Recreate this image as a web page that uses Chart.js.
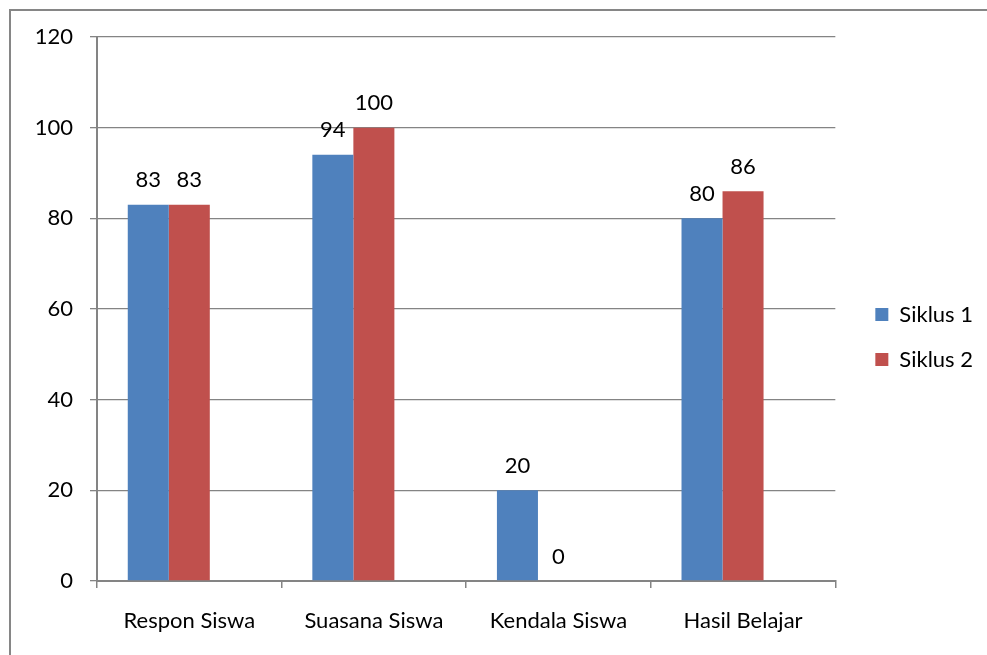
<!DOCTYPE html>
<html>
<head>
<meta charset="utf-8">
<script src="https://cdn.jsdelivr.net/npm/chart.js"></script>
<style>
    body { margin: 0; overflow: hidden; background: #fff; }
    .frame { position: absolute; left: 9px; top: 9px; width: 1200px; height: 900px; border-left: 2px solid #868686; border-top: 2px solid #868686; }
    canvas { position: absolute; left: 0; top: 0; }
</style>
</head>
<body>
<div class="frame"></div>
<canvas id="chart" width="987" height="655"></canvas>
<script>
const categories = ['Respon Siswa', 'Suasana Siswa', 'Kendala Siswa', 'Hasil Belajar'];
const siklus1 = [83, 94, 20, 80];
const siklus2 = [83, 100, 0, 86];
const seriesNames = ['Siklus 1', 'Siklus 2'];
const yMin = 0;
const yMax = 120;
const yStep = 20;

const gray = '#848484';
const font = { family: 'Lato', size: 22 };

// value labels above each bar
const valueLabels = {
    id: 'valueLabels',
    afterDatasetsDraw(chart) {
        const ctx = chart.ctx;
        ctx.save();
        ctx.font = '22px Lato';
        ctx.fillStyle = '#000';
        ctx.textAlign = 'center';
        ctx.textBaseline = 'alphabetic';
        [0, 1].forEach(i => {
            const meta = chart.getDatasetMeta(i);
            meta.data.forEach((bar, j) => {
                ctx.fillText(chart.data.datasets[i].data[j], bar.x, bar.y - 17.5);
            });
        });
        ctx.restore();
    }
};

// move the legend a bit, like the office chart
const legendShift = {
    id: 'legendShift',
    afterLayout(chart) {
        const l = chart.legend;
        l.left += 17; l.right += 17;
        l.top -= 9; l.bottom -= 9;
    }
};

new Chart(document.getElementById('chart'), {
    type: 'bar',
    data: {
        labels: categories,
        datasets: [
            { label: seriesNames[0], data: siklus1, backgroundColor: '#4F81BD' },
            { label: seriesNames[1], data: siklus2, backgroundColor: '#C0504D' },
            // empty third series, keeps the office spacing of the clusters
            { label: '', data: [null, null, null, null], backgroundColor: 'rgba(0,0,0,0)' }
        ]
    },
    options: {
        responsive: false,
        animation: false,
        devicePixelRatio: 1,
        layout: { padding: { top: 37, right: 21, left: 0, bottom: 0 } },
        datasets: { bar: { categoryPercentage: 2 / 3, barPercentage: 1 } },
        plugins: {
            tooltip: { enabled: false },
            legend: {
                position: 'right',
                labels: {
                    filter: item => item.datasetIndex < 2,
                    boxWidth: 13,
                    boxHeight: 13,
                    padding: 23,
                    color: '#000',
                    font: font
                }
            }
        },
        scales: {
            x: {
                grid: { drawOnChartArea: false, drawTicks: true, tickLength: 7, color: gray, lineWidth: 1.5 },
                border: { color: gray, width: 2 },
                ticks: { color: '#000', font: font, padding: 20, maxRotation: 0 },
                afterFit: scale => { scale.height = 74; }
            },
            y: {
                min: yMin,
                max: yMax,
                grid: { color: gray, tickLength: 7, lineWidth: 1.3 },
                border: { color: gray, width: 2 },
                ticks: { stepSize: yStep, color: '#000', font: font, padding: 17 },
                afterFit: scale => { scale.width = 97; }
            }
        }
    },
    plugins: [valueLabels, legendShift]
});
</script>
</body>
</html>
